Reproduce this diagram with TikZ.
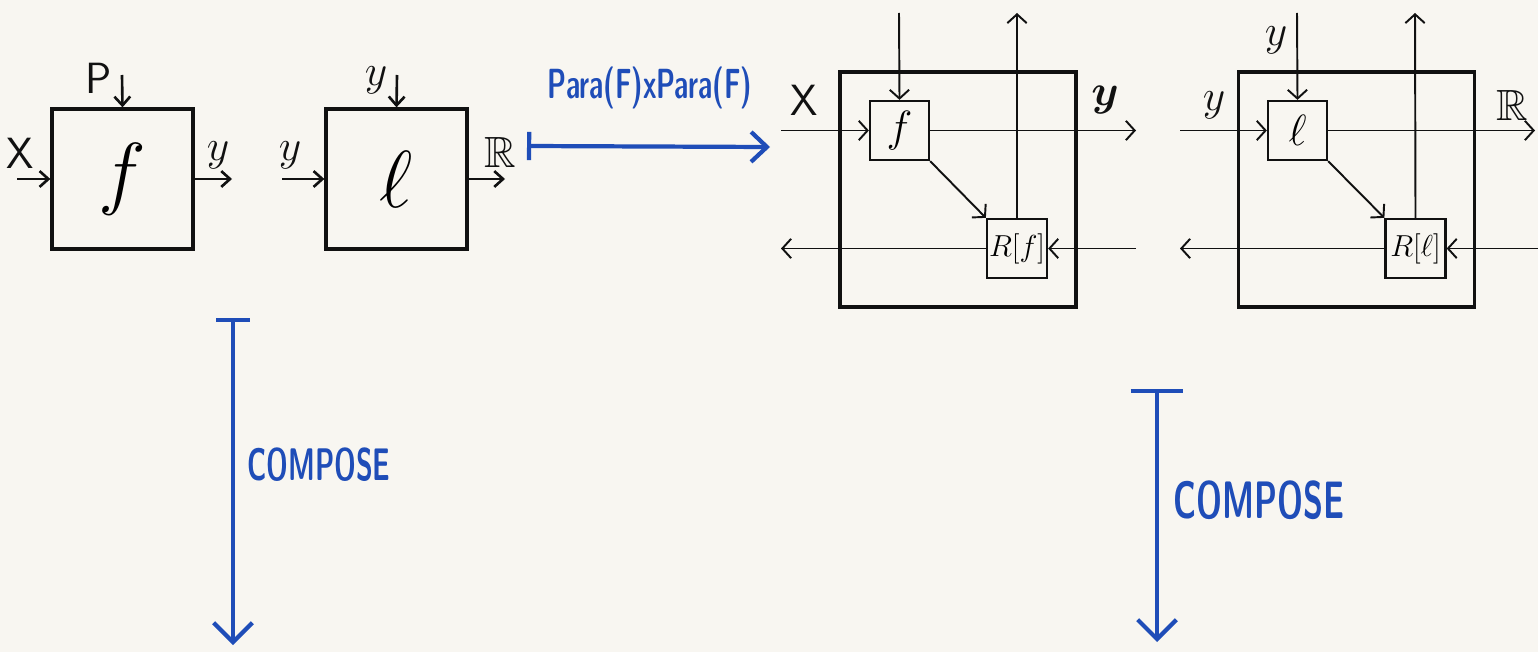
\documentclass[tikz,border=0pt]{standalone}
\usepackage{amsmath}
\usepackage{amssymb}
\usepackage{graphicx}
\usepackage{xcolor}
\definecolor{paper}{HTML}{F8F6F1}
\definecolor{ink}{HTML}{111111}
\definecolor{pen}{HTML}{1F4DB8}
\usepackage{tikz}
\usetikzlibrary{arrows.meta, positioning}

\newcommand{\bigsym}[1]{\scalebox{1.85}{$#1$}}

\begin{document}
\begin{tikzpicture}[
        x=0.02cm, y=-0.02cm,
        block/.style={draw=ink, rectangle, line width=1.9pt, minimum width=2.82cm, minimum height=2.8cm, inner sep=0pt, font=\Huge},
        frame/.style={draw=ink, rectangle, line width=1.9pt, minimum width=4.72cm, minimum height=4.7cm, inner sep=0pt},
        cell/.style={draw=ink, rectangle, line width=1.3pt, minimum width=1.18cm, minimum height=1.18cm, inner sep=0pt, font=\Huge},
        tag/.style={draw=ink, rectangle, line width=1.3pt, minimum width=1.2cm, minimum height=1.18cm, inner sep=0pt, font=\LARGE},
        wire/.style={-{Straight Barb[length=5pt, width=9pt]}, line width=1.5pt, draw=ink},
        flow/.style={-{Straight Barb[length=5pt, width=11pt]}, line width=1.1pt, draw=ink},
        pen/.style={line width=2.4pt, draw=pen, line cap=round},
        label/.style={font=\Huge, text=ink, inner sep=0pt},
        note/.style={font=\sffamily\bfseries, text=pen, inner sep=0pt}
    ]
        % Paper
        \fill[paper] (0,0) rectangle (1538,652);
        \useasboundingbox (0,0) rectangle (1538,652);

        % Parametrised map f
        \node[block] (f) at (122.5,179) {\bigsym{f}};
        \coordinate (fX) at (17,179);
        \coordinate (fP) at (122,75);
        \coordinate (fY) at (232,179);
        \draw[wire] (fX) -- (f.west);
        \draw[wire] (fP) -- (f.north);
        \draw[wire] (f.east) -- (fY);
        \node[label] (lX) at (20,153) {\textsf{X}};
        \node[label] (lP) at (99,78) {\textsf{P}};
        \node[label] (lY) at (218,155) {$y$};

        % Loss l
        \node[block] (l) at (396.5,179) {\bigsym{\ell}};
        \coordinate (lYin) at (282,179);
        \coordinate (lYtop) at (397,75);
        \coordinate (lR) at (505,179);
        \draw[wire] (lYin) -- (l.west);
        \draw[wire] (lYtop) -- (l.north);
        \draw[wire] (l.east) -- (lR);
        \node[label] (ly1) at (290,155) {$y$};
        \node[label] (ly2) at (376,80) {$y$};
        \node[label] (lr) at (500,152) {$\mathbb{R}$};

        % Para(F) x Para(F) map
        \coordinate (mapS) at (527,146);
        \coordinate (mapE) at (770,147);
        \draw[pen, {Bar[width=16pt]}-{Straight Barb[length=9pt, width=17pt]}] (mapS) -- (mapE);
        \node[note] (para) at (650,88) {\scalebox{0.64}[1]{\fontsize{24}{26}\selectfont Para(F)xPara(F)}};

        % Lens of f
        \node[frame] (F1) at (958,189.5) {};
        \node[cell] (f1) at (899.5,130.5) {$f$};
        \node[tag] (rf) at (1017,248.5) {$R[f]$};
        \coordinate (t1) at (899,13);
        \coordinate (u1) at (1017,13);
        \coordinate (x1) at (781,130.5);
        \coordinate (y1) at (1136,130.5);
        \coordinate (o1) at (781,248.5);
        \coordinate (i1) at (1136,248.5);
        \draw[flow] (t1) -- (f1.north);
        \draw[flow] (rf.north) -- (u1);
        \draw[flow] (x1) -- (f1.west);
        \draw[flow] (f1.east) -- (y1);
        \draw[flow] (f1.south east) -- (rf.north west);
        \draw[flow] (rf.west) -- (o1);
        \draw[flow] (i1) -- (rf.east);
        \node[label] (lx1) at (804,100) {\textsf{X}};
        \node[label] (ly1b) at (1105,100) {$\boldsymbol{y}$};

        % Lens of l
        \node[frame] (F2) at (1356.5,189.5) {};
        \node[cell] (l2) at (1297.5,130.5) {$\ell$};
        \node[tag] (rl) at (1415.5,248.5) {$R[\ell]$};
        \coordinate (t2) at (1297,13);
        \coordinate (u2) at (1415,13);
        \coordinate (x2) at (1180,130.5);
        \coordinate (y2) at (1535,130.5);
        \coordinate (o2) at (1180,248.5);
        \coordinate (i2) at (1538,248.5);
        \draw[flow] (t2) -- (l2.north);
        \draw[flow] (rl.north) -- (u2);
        \draw[flow] (x2) -- (l2.west);
        \draw[flow] (l2.east) -- (y2);
        \draw[flow] (l2.south east) -- (rl.north west);
        \draw[flow] (rl.west) -- (o2);
        \draw[flow] (i2) -- (rl.east);
        \node[label] (ly2a) at (1214,105) {$y$};
        \node[label] (ly2b) at (1276,40) {$y$};
        \node[label] (lr2) at (1512,105) {$\mathbb{R}$};

        % Compose arrows
        \coordinate (c1s) at (233,318);
        \coordinate (c1e) at (233,645);
        \draw[pen, {Bar[width=19pt]}-{Straight Barb[length=11pt, width=22pt]}] (c1s) -- (c1e);
        \node[note, anchor=west] (comp1) at (247,465) {\scalebox{0.6}[1]{\fontsize{26}{28}\selectfont COMPOSE}};

        \coordinate (c2s) at (1157,389);
        \coordinate (c2e) at (1157,642);
        \draw[pen, {Bar[width=30pt]}-{Straight Barb[length=11pt, width=22pt]}] (c2s) -- (c2e);
        \node[note, anchor=west] (comp2) at (1173,500) {\scalebox{0.62}[1]{\fontsize{30}{32}\selectfont COMPOSE}};
    \end{tikzpicture}
\end{document}
